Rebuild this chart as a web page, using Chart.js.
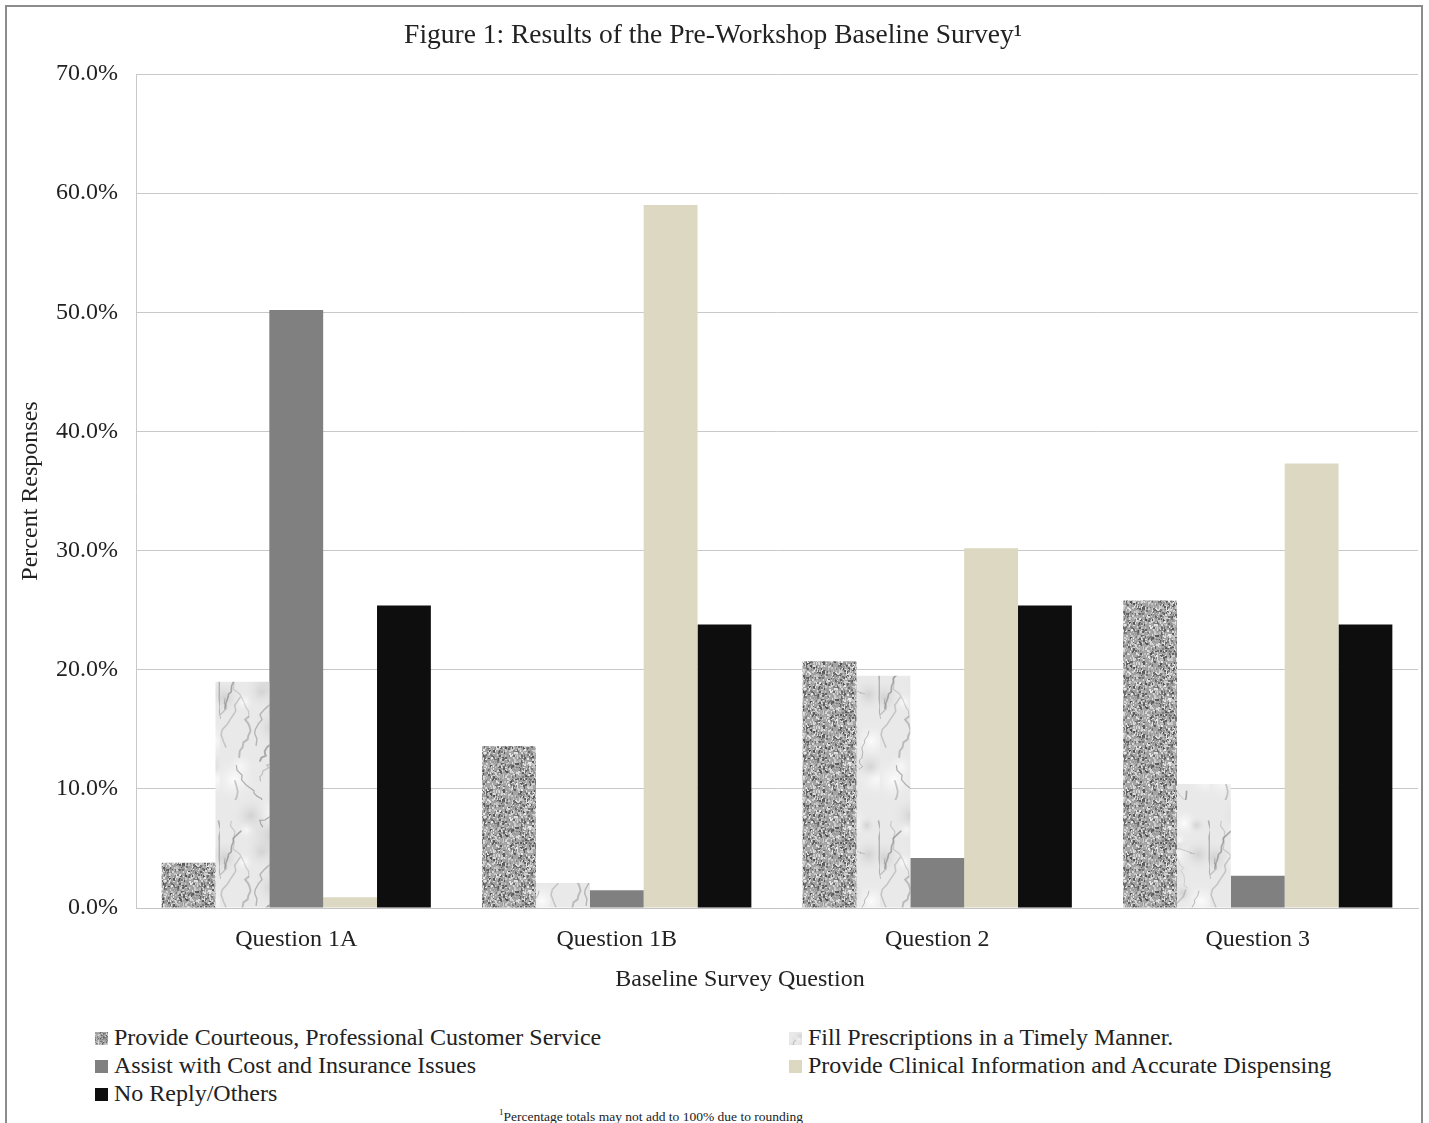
<!DOCTYPE html>
<html>
<head>
<meta charset="utf-8">
<script src="https://cdn.jsdelivr.net/npm/chart.js@4.4.1/dist/chart.umd.min.js"></script>
<style>
body { margin: 0; background: #fff; font-family: "Liberation Serif", "Times New Roman", serif; color: #222; }
#frame { position: absolute; left: 5px; top: 5px; width: 1414px; height: 1140px; border: 2px solid #8c8c8c; border-bottom: none; }
#wrap { position: absolute; left: 0; top: 0; width: 1429px; height: 1010px; }
#legend { position: absolute; left: 0; top: 1023px; width: 1429px; font-size: 24px; }
.item { position: absolute; white-space: nowrap; line-height: 28px; }
.sw { display: inline-block; width: 13px; height: 13px; margin-right: 6px; }
#note { position: absolute; top: 1107px; left: 0; width: 1302px; text-align: center; font-size: 13.5px; }
</style>
</head>
<body>
<div id="frame"></div>
<div id="wrap"><canvas id="c"></canvas></div>
<div id="legend"></div>
<div id="note"><sup style="font-size:9px">1</sup>Percentage totals may not add to 100% due to rounding</div>
<script>
// data
const categories = ["Question 1A", "Question 1B", "Question 2", "Question 3"];
const seriesNames = [
  "Provide Courteous, Professional Customer Service",
  "Fill Prescriptions in a Timely Manner.",
  "Assist with Cost and Insurance Issues",
  "Provide Clinical Information and Accurate Dispensing",
  "No Reply/Others"
];
const courteous = [3.8, 13.6, 20.7, 25.8];
const fillRx = [19.0, 2.1, 19.5, 10.4];
const assist = [50.2, 1.5, 4.2, 2.7];
const clinical = [0.9, 59.0, 30.2, 37.3];
const noReply = [25.4, 23.8, 25.4, 23.8];
const yTicks = [0, 10, 20, 30, 40, 50, 60, 70];

// seeded generator, only for the texture tiles
function lcg(seed) {
  let s = seed;
  return () => { s = (s * 1664525 + 1013904223) >>> 0; return s / 4294967296; };
}

function graniteTile() {
  const c = document.createElement("canvas");
  c.width = c.height = 64;
  const g = c.getContext("2d");
  const r = lcg(7);
  g.fillStyle = "#a4a4a4";
  g.fillRect(0, 0, 64, 64);
  for (let i = 0; i < 1600; i++) {
    const v = r();
    let s;
    if (v < 0.3) s = 80 + r() * 50;
    else if (v < 0.7) s = 190 + r() * 45;
    else s = 145 + r() * 30;
    s = s | 0;
    g.fillStyle = "rgb(" + s + "," + s + "," + s + ")";
    const w = r() < 0.5 ? 1 : 2;
    g.fillRect((r() * 64) | 0, (r() * 64) | 0, w, 2);
  }
  return c;
}

function marbleTile() {
  const c = document.createElement("canvas");
  c.width = 110; c.height = 160;
  const g = c.getContext("2d");
  const r = lcg(21);
  g.fillStyle = "#e9e9e9";
  g.fillRect(0, 0, c.width, c.height);
  for (let i = 0; i < 24; i++) {
    const x = r() * c.width, y = r() * c.height, rad = 8 + r() * 22;
    const grd = g.createRadialGradient(x, y, 0, x, y, rad);
    const light = r() < 0.55;
    grd.addColorStop(0, light ? "rgba(255,255,255,0.85)" : "rgba(190,190,190,0.55)");
    grd.addColorStop(1, "rgba(230,230,230,0)");
    g.fillStyle = grd;
    g.fillRect(x - rad, y - rad, rad * 2, rad * 2);
  }
  g.lineCap = "round";
  for (let i = 0; i < 24; i++) {
    let x = r() * c.width, y = r() * c.height;
    g.strokeStyle = "rgba(130,130,130," + (0.3 + r() * 0.4).toFixed(2) + ")";
    g.lineWidth = 0.6 + r() * 1.4;
    g.beginPath();
    g.moveTo(x, y);
    const dx = (r() - 0.5) * 6, dy = 2 + r() * 4;
    for (let k = 0; k < 10; k++) {
      x += dx + (r() - 0.5) * 8;
      y += dy + (r() - 0.5) * 4;
      g.lineTo(x, y);
    }
    g.stroke();
  }
  return c;
}

const canvas = document.getElementById("c");
const ctx = canvas.getContext("2d");
const graniteC = graniteTile();
const marbleC = marbleTile();
const granite = ctx.createPattern(graniteC, "repeat");
const marble = ctx.createPattern(marbleC, "repeat");

const fills = [granite, marble, "#808080", "#ddd8c1", "#0e0e0e"];
const swatches = [
  "url(" + graniteC.toDataURL() + ")",
  "url(" + marbleC.toDataURL() + ")",
  "#808080", "#ddd8c1", "#0e0e0e"
];
const values = [courteous, fillRx, assist, clinical, noReply];

const serif = "'Liberation Serif', 'Times New Roman', serif";

// x axis title sits a little left of the plot centre in the original
const xTitlePlugin = {
  id: "xTitle",
  afterDraw(chart) {
    const c = chart.ctx;
    c.save();
    c.font = "24px " + serif;
    c.fillStyle = "#222";
    c.textAlign = "center";
    c.textBaseline = "middle";
    c.fillText("Baseline Survey Question", 740, 980);
    c.restore();
  },
};

new Chart(canvas, {
  type: "bar",
  data: {
    labels: categories,
    datasets: seriesNames.map((name, i) => ({
      label: name,
      data: values[i],
      backgroundColor: fills[i],
      borderWidth: 0,
      categoryPercentage: 0.84,
      barPercentage: 1.0,
    })),
  },
  plugins: [xTitlePlugin],
  options: {
    responsive: true,
    maintainAspectRatio: false,
    animation: false,
    layout: { padding: { left: 8, right: 11, top: 0, bottom: 5 } },
    plugins: {
      legend: { display: false },
      tooltip: { enabled: false },
      title: {
        display: true,
        text: "Figure 1: Results of the Pre-Workshop Baseline Survey\u00B9",
        color: "#222",
        font: { family: serif, size: 27.5, weight: "normal" },
        padding: { top: 19, bottom: 22 },
      },
    },
    scales: {
      x: {
        grid: { display: false },
        border: { color: "#c4c4c4" },
        ticks: { color: "#222", font: { family: serif, size: 24 }, padding: 9 },
        afterFit: (s) => { s.height = 97; },
      },
      y: {
        min: 0,
        max: 70,
        afterBuildTicks: (s) => { s.ticks = yTicks.map((v) => ({ value: v })); },
        grid: { color: "#c8c8c8", drawTicks: false },
        border: { color: "#c8c8c8" },
        ticks: {
          color: "#222",
          font: { family: serif, size: 24 },
          padding: 18,
          callback: (v) => v.toFixed(1) + "%",
        },
        title: {
          display: true,
          text: "Percent Responses",
          color: "#222",
          font: { family: serif, size: 24 },
          padding: { top: 8, bottom: 0 },
        },
        afterFit: (s) => { s.width = 128; },
      },
    },
  },
});

// legend in two columns like the original
const legend = document.getElementById("legend");
const pos = [[95, 0], [789, 0], [95, 1], [789, 1], [95, 2]];
seriesNames.forEach((name, i) => {
  const d = document.createElement("div");
  d.className = "item";
  d.style.left = pos[i][0] + "px";
  d.style.top = pos[i][1] * 28 + "px";
  const sw = document.createElement("span");
  sw.className = "sw";
  sw.style.background = swatches[i];
  sw.style.backgroundSize = "40px 40px";
  d.appendChild(sw);
  d.appendChild(document.createTextNode(name));
  legend.appendChild(d);
});
</script>
</body>
</html>
